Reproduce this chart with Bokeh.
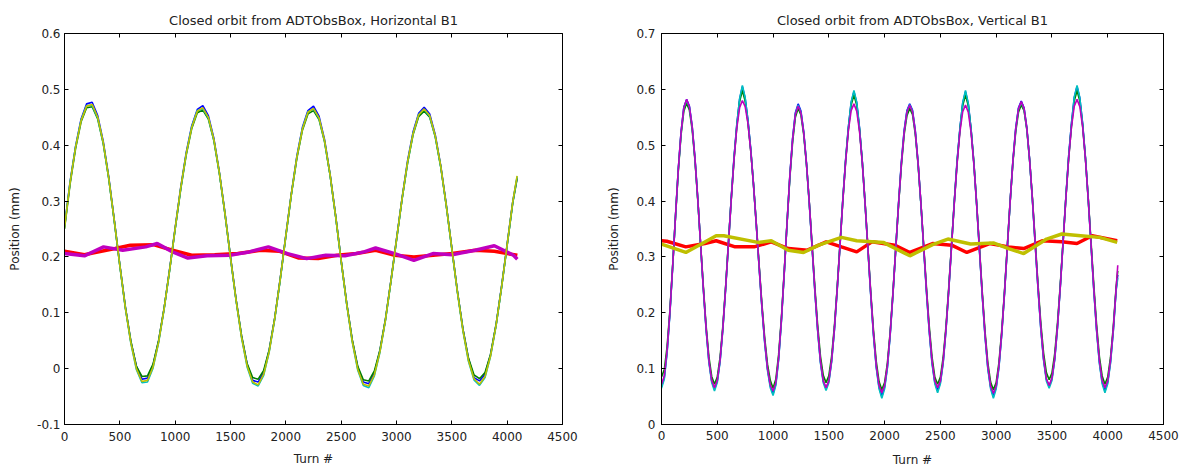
from bokeh.plotting import figure
from bokeh.layouts import row
from bokeh.models import Range1d, FixedTicker, LinearAxis, CustomJSTickFormatter
from bokeh.embed import file_html
from bokeh.resources import INLINE

FONT = "DejaVu Sans"

# ---------------- data: Horizontal B1 ----------------
X_TICKS = [0, 500, 1000, 1500, 2000, 2500, 3000, 3500, 4000, 4500]
Y_TICKS_H = [-0.1, 0.0, 0.1, 0.2, 0.3, 0.4, 0.5, 0.6]
Y_TICKS_V = [0.0, 0.1, 0.2, 0.3, 0.4, 0.5, 0.6, 0.7]

turn_h = list(range(0, 4051, 50)) + [4090]

h_blue = [0.254, 0.334, 0.398, 0.447, 0.474, 0.477, 0.453, 0.407, 0.343, 0.266,
          0.186, 0.110, 0.048, 0.004, -0.019, -0.017, 0.006, 0.049, 0.108, 0.178,
          0.252, 0.324, 0.387, 0.435, 0.464, 0.471, 0.453, 0.412, 0.351, 0.279,
          0.200, 0.124, 0.058, 0.008, -0.021, -0.024, -0.007, 0.033, 0.091, 0.162,
          0.239, 0.314, 0.381, 0.432, 0.462, 0.470, 0.452, 0.410, 0.348, 0.274,
          0.194, 0.117, 0.051, 0.002, -0.024, -0.027, -0.008, 0.032, 0.088, 0.158,
          0.232, 0.305, 0.372, 0.424, 0.457, 0.468, 0.456, 0.419, 0.363, 0.293,
          0.216, 0.139, 0.071, 0.018, -0.016, -0.022, -0.010, 0.025, 0.079, 0.148,
          0.223, 0.298, 0.342]
h_green = [0.250, 0.330, 0.394, 0.442, 0.467, 0.469, 0.447, 0.403, 0.340, 0.264,
           0.185, 0.110, 0.049, 0.004, -0.014, -0.013, 0.008, 0.050, 0.108, 0.177,
           0.250, 0.321, 0.383, 0.430, 0.458, 0.463, 0.447, 0.408, 0.349, 0.277,
           0.199, 0.124, 0.059, 0.009, -0.016, -0.019, -0.003, 0.034, 0.091, 0.161,
           0.237, 0.312, 0.377, 0.427, 0.456, 0.462, 0.446, 0.406, 0.346, 0.273,
           0.193, 0.117, 0.052, 0.004, -0.020, -0.022, -0.004, 0.033, 0.088, 0.157,
           0.230, 0.303, 0.368, 0.419, 0.451, 0.461, 0.450, 0.415, 0.361, 0.292,
           0.215, 0.139, 0.071, 0.019, -0.011, -0.018, -0.007, 0.026, 0.079, 0.147,
           0.221, 0.296, 0.340]
h_cyan = [0.253, 0.333, 0.397, 0.445, 0.471, 0.471, 0.449, 0.404, 0.340, 0.264,
          0.184, 0.108, 0.045, -0.002, -0.025, -0.024, 0.001, 0.046, 0.106, 0.176,
          0.250, 0.322, 0.385, 0.433, 0.462, 0.465, 0.449, 0.409, 0.349, 0.277,
          0.198, 0.122, 0.055, 0.003, -0.026, -0.031, -0.012, 0.030, 0.089, 0.160,
          0.237, 0.312, 0.379, 0.430, 0.460, 0.465, 0.448, 0.407, 0.346, 0.272,
          0.192, 0.115, 0.048, -0.003, -0.030, -0.034, -0.013, 0.029, 0.086, 0.156,
          0.230, 0.303, 0.369, 0.421, 0.455, 0.464, 0.452, 0.416, 0.361, 0.291,
          0.214, 0.137, 0.068, 0.013, -0.020, -0.030, -0.016, 0.022, 0.077, 0.146,
          0.221, 0.297, 0.344]
h_yellow = [0.252, 0.332, 0.396, 0.444, 0.470, 0.473, 0.450, 0.405, 0.341, 0.265,
            0.185, 0.109, 0.046, 0.000, -0.023, -0.021, 0.003, 0.047, 0.107, 0.177,
            0.251, 0.323, 0.385, 0.432, 0.461, 0.467, 0.450, 0.410, 0.350, 0.278,
            0.199, 0.123, 0.056, 0.005, -0.024, -0.029, -0.010, 0.031, 0.090, 0.161,
            0.238, 0.313, 0.379, 0.429, 0.459, 0.466, 0.449, 0.408, 0.347, 0.273,
            0.193, 0.116, 0.049, -0.001, -0.028, -0.031, -0.011, 0.030, 0.087, 0.157,
            0.231, 0.304, 0.370, 0.421, 0.454, 0.465, 0.453, 0.417, 0.362, 0.292,
            0.215, 0.138, 0.069, 0.015, -0.018, -0.028, -0.014, 0.023, 0.078, 0.147,
            0.222, 0.298, 0.345]

h_red_t = [0, 180, 457, 595, 803, 976, 1149, 1357, 1565, 1772, 1945, 2118, 2292,
           2465, 2638, 2811, 2984, 3157, 3330, 3503, 3711, 3884, 4092]
h_red = [0.210, 0.204, 0.215, 0.221, 0.222, 0.212, 0.203, 0.204, 0.206, 0.212, 0.210,
         0.198, 0.197, 0.203, 0.206, 0.212, 0.203, 0.200, 0.203, 0.206, 0.212, 0.210, 0.203]
h_mag_t = [0, 180, 353, 526, 734, 838, 976, 1115, 1288, 1495, 1668, 1842, 2015, 2188,
           2361, 2534, 2707, 2811, 2984, 3157, 3330, 3503, 3711, 3884, 4057, 4092]
h_mag = [0.206, 0.202, 0.218, 0.212, 0.218, 0.224, 0.209, 0.198, 0.202, 0.203, 0.209,
         0.218, 0.206, 0.197, 0.203, 0.202, 0.209, 0.216, 0.206, 0.194, 0.206, 0.204,
         0.212, 0.220, 0.203, 0.196]

# ---------------- data: Vertical B1 ----------------
turn_v = list(range(0, 4076, 25)) + [4090]

v_blue = [0.068, 0.084, 0.130, 0.199, 0.283, 0.372, 0.456, 0.523, 0.568, 0.582,
          0.570, 0.534, 0.477, 0.405, 0.324, 0.244, 0.171, 0.113, 0.078, 0.063,
          0.078, 0.114, 0.172, 0.245, 0.325, 0.405, 0.478, 0.537, 0.582, 0.605,
          0.584, 0.545, 0.493, 0.430, 0.358, 0.283, 0.211, 0.148, 0.100, 0.069,
          0.055, 0.073, 0.118, 0.187, 0.271, 0.360, 0.444, 0.512, 0.558, 0.574,
          0.561, 0.524, 0.467, 0.396, 0.318, 0.239, 0.169, 0.112, 0.078, 0.064,
          0.078, 0.114, 0.171, 0.243, 0.322, 0.402, 0.473, 0.532, 0.576, 0.596,
          0.576, 0.531, 0.471, 0.396, 0.316, 0.235, 0.162, 0.104, 0.067, 0.050,
          0.067, 0.103, 0.162, 0.235, 0.316, 0.396, 0.469, 0.526, 0.562, 0.574,
          0.563, 0.526, 0.469, 0.397, 0.318, 0.239, 0.168, 0.111, 0.076, 0.060,
          0.076, 0.112, 0.170, 0.242, 0.321, 0.400, 0.473, 0.530, 0.575, 0.596,
          0.574, 0.529, 0.469, 0.395, 0.314, 0.233, 0.160, 0.102, 0.067, 0.050,
          0.067, 0.104, 0.163, 0.237, 0.318, 0.399, 0.472, 0.530, 0.567, 0.579,
          0.567, 0.531, 0.474, 0.403, 0.323, 0.245, 0.173, 0.117, 0.081, 0.068,
          0.082, 0.118, 0.176, 0.248, 0.328, 0.408, 0.481, 0.539, 0.585, 0.605,
          0.584, 0.539, 0.479, 0.405, 0.324, 0.243, 0.170, 0.112, 0.076, 0.060,
          0.076, 0.112, 0.169, 0.241, 0.268]
v_green = [0.085, 0.098, 0.139, 0.203, 0.284, 0.370, 0.452, 0.518, 0.561, 0.575,
           0.563, 0.528, 0.473, 0.403, 0.325, 0.247, 0.176, 0.121, 0.086, 0.072,
           0.085, 0.120, 0.176, 0.247, 0.325, 0.403, 0.474, 0.533, 0.578, 0.598,
           0.579, 0.541, 0.490, 0.429, 0.359, 0.286, 0.216, 0.155, 0.108, 0.079,
           0.065, 0.081, 0.125, 0.191, 0.273, 0.359, 0.440, 0.505, 0.550, 0.566,
           0.554, 0.519, 0.465, 0.397, 0.321, 0.245, 0.177, 0.122, 0.088, 0.075,
           0.087, 0.122, 0.176, 0.245, 0.322, 0.400, 0.470, 0.528, 0.572, 0.590,
           0.572, 0.528, 0.470, 0.397, 0.318, 0.239, 0.169, 0.113, 0.077, 0.062,
           0.075, 0.110, 0.166, 0.237, 0.315, 0.393, 0.463, 0.519, 0.553, 0.566,
           0.555, 0.520, 0.466, 0.397, 0.321, 0.245, 0.176, 0.121, 0.085, 0.072,
           0.085, 0.120, 0.175, 0.245, 0.322, 0.399, 0.469, 0.527, 0.571, 0.590,
           0.571, 0.527, 0.469, 0.396, 0.317, 0.238, 0.167, 0.111, 0.076, 0.062,
           0.075, 0.111, 0.168, 0.239, 0.319, 0.398, 0.469, 0.524, 0.559, 0.572,
           0.562, 0.528, 0.473, 0.405, 0.328, 0.251, 0.182, 0.128, 0.093, 0.080,
           0.092, 0.127, 0.182, 0.251, 0.328, 0.406, 0.477, 0.534, 0.579, 0.598,
           0.579, 0.535, 0.477, 0.406, 0.328, 0.250, 0.179, 0.122, 0.087, 0.072,
           0.085, 0.120, 0.175, 0.245, 0.275]
v_cyan = [0.065, 0.081, 0.128, 0.197, 0.281, 0.370, 0.454, 0.521, 0.566, 0.580,
          0.568, 0.532, 0.475, 0.403, 0.322, 0.242, 0.169, 0.111, 0.075, 0.060,
          0.075, 0.112, 0.170, 0.243, 0.323, 0.403, 0.476, 0.536, 0.583, 0.607,
          0.585, 0.544, 0.492, 0.428, 0.356, 0.281, 0.209, 0.146, 0.097, 0.066,
          0.052, 0.070, 0.116, 0.185, 0.269, 0.358, 0.442, 0.510, 0.556, 0.572,
          0.559, 0.522, 0.465, 0.394, 0.316, 0.237, 0.167, 0.110, 0.075, 0.061,
          0.075, 0.112, 0.169, 0.241, 0.320, 0.400, 0.471, 0.531, 0.577, 0.598,
          0.577, 0.530, 0.469, 0.394, 0.314, 0.233, 0.160, 0.102, 0.064, 0.047,
          0.064, 0.101, 0.160, 0.233, 0.314, 0.394, 0.467, 0.524, 0.560, 0.573,
          0.561, 0.524, 0.467, 0.395, 0.316, 0.237, 0.166, 0.109, 0.073, 0.057,
          0.073, 0.110, 0.168, 0.240, 0.319, 0.398, 0.471, 0.529, 0.576, 0.598,
          0.575, 0.528, 0.467, 0.393, 0.312, 0.231, 0.158, 0.100, 0.064, 0.047,
          0.064, 0.102, 0.161, 0.235, 0.316, 0.397, 0.470, 0.528, 0.565, 0.577,
          0.565, 0.529, 0.472, 0.401, 0.321, 0.243, 0.171, 0.115, 0.078, 0.065,
          0.079, 0.116, 0.174, 0.246, 0.326, 0.406, 0.480, 0.538, 0.586, 0.607,
          0.585, 0.538, 0.477, 0.403, 0.322, 0.241, 0.168, 0.110, 0.073, 0.057,
          0.073, 0.110, 0.167, 0.239, 0.262]
v_mag = [0.072, 0.087, 0.132, 0.200, 0.283, 0.371, 0.455, 0.522, 0.567, 0.582,
         0.569, 0.533, 0.476, 0.404, 0.324, 0.244, 0.172, 0.115, 0.079, 0.066,
         0.079, 0.115, 0.172, 0.244, 0.323, 0.402, 0.474, 0.531, 0.567, 0.580,
         0.569, 0.539, 0.490, 0.428, 0.357, 0.283, 0.212, 0.150, 0.101, 0.071,
         0.060, 0.075, 0.120, 0.188, 0.271, 0.359, 0.443, 0.510, 0.555, 0.570,
         0.558, 0.522, 0.466, 0.396, 0.318, 0.240, 0.170, 0.114, 0.078, 0.066,
         0.078, 0.115, 0.171, 0.242, 0.320, 0.399, 0.469, 0.526, 0.562, 0.574,
         0.561, 0.525, 0.468, 0.395, 0.316, 0.236, 0.164, 0.106, 0.070, 0.057,
         0.070, 0.106, 0.163, 0.235, 0.315, 0.394, 0.466, 0.523, 0.559, 0.572,
         0.560, 0.524, 0.468, 0.397, 0.319, 0.241, 0.170, 0.114, 0.078, 0.066,
         0.078, 0.114, 0.170, 0.241, 0.319, 0.397, 0.468, 0.524, 0.560, 0.572,
         0.559, 0.523, 0.466, 0.394, 0.314, 0.234, 0.162, 0.105, 0.069, 0.056,
         0.069, 0.106, 0.164, 0.236, 0.317, 0.398, 0.471, 0.528, 0.565, 0.578,
         0.566, 0.530, 0.473, 0.403, 0.324, 0.246, 0.175, 0.119, 0.082, 0.070,
         0.083, 0.119, 0.176, 0.247, 0.326, 0.405, 0.477, 0.533, 0.570, 0.582,
         0.569, 0.533, 0.476, 0.404, 0.324, 0.244, 0.172, 0.115, 0.079, 0.066,
         0.078, 0.115, 0.171, 0.242, 0.285]

v_red_t = [0, 48, 218, 388, 490, 660, 830, 984, 1137, 1307, 1477, 1613, 1750, 1886,
           2090, 2226, 2430, 2601, 2737, 2941, 3111, 3247, 3418, 3588, 3724, 3860, 4085]
v_red = [0.329, 0.328, 0.318, 0.324, 0.329, 0.318, 0.318, 0.327, 0.315, 0.312, 0.327,
         0.318, 0.309, 0.327, 0.321, 0.308, 0.324, 0.321, 0.308, 0.324, 0.318, 0.315,
         0.329, 0.327, 0.324, 0.338, 0.329]
v_yel_t = [0, 218, 490, 558, 865, 984, 1137, 1273, 1409, 1613, 1750, 1988, 2226, 2430,
           2567, 2771, 2975, 3111, 3247, 3452, 3588, 3758, 3928, 4085]
v_yel = [0.323, 0.308, 0.338, 0.338, 0.326, 0.329, 0.312, 0.308, 0.321, 0.335, 0.329,
         0.326, 0.302, 0.322, 0.332, 0.323, 0.325, 0.315, 0.306, 0.332, 0.341, 0.338,
         0.335, 0.326]

C_BLUE, C_GREEN, C_RED = "#0000ff", "#008000", "#ff0000"
C_CYAN, C_MAG, C_YEL = "#00bfbf", "#bf00bf", "#bfbf00"

fmt_y = CustomJSTickFormatter(code="return Number(tick.toFixed(1)).toString();")
blank = CustomJSTickFormatter(code="return '';")


def style_axis(ax, ticks, fmt, label, lab_standoff, label_standoff):
    ax.ticker = FixedTicker(ticks=ticks)
    ax.formatter = fmt
    ax.major_tick_in = 4
    ax.major_tick_out = 0
    ax.minor_tick_in = 0
    ax.minor_tick_out = 0
    ax.axis_line_color = "#000000"
    ax.major_tick_line_color = "#000000"
    ax.major_label_text_font = FONT
    ax.major_label_text_font_size = "12px"
    ax.major_label_text_color = "#222222"
    ax.major_label_standoff = lab_standoff
    ax.axis_label = label
    ax.axis_label_text_font = FONT
    ax.axis_label_text_font_size = "12px"
    ax.axis_label_text_font_style = "normal"
    ax.axis_label_text_color = "#222222"
    ax.axis_label_standoff = label_standoff


def make_fig(title, W, H, bl, br, bt, bb, ylo, yhi, yticks, ystand, ylabstand, xstand, xlabstand):
    p = figure(width=W, height=H, output_backend="svg", toolbar_location=None,
               x_range=Range1d(0, 4500), y_range=Range1d(ylo, yhi),
               min_border_left=bl, min_border_right=br, min_border_top=bt,
               min_border_bottom=bb, title=title)
    p.title.align = "center"
    p.title.text_font = FONT
    p.title.text_font_size = "13px"
    p.title.text_font_style = "normal"
    p.title.text_color = "#222222"
    p.title.standoff = 12
    p.grid.visible = False
    p.outline_line_color = "#000000"
    p.background_fill_color = "white"
    p.border_fill_color = "white"
    style_axis(p.xaxis[0], X_TICKS, p.xaxis[0].formatter, "Turn #", xstand, xlabstand)
    style_axis(p.yaxis[0], yticks, fmt_y, "Position (mm)", ystand, ylabstand)
    top = LinearAxis()
    style_axis(top, X_TICKS, blank, None, 0, 0)
    top.axis_line_color = None
    p.add_layout(top, "above")
    rgt = LinearAxis()
    style_axis(rgt, yticks, blank, None, 0, 0)
    rgt.axis_line_color = None
    p.add_layout(rgt, "right")
    return p


p1 = make_fig("Closed orbit from ADTObsBox, Horizontal B1", 600, 472, 64, 38, 31, 48,
              -0.1, 0.6, Y_TICKS_H, 4, 12, 7, 8)
p1.line(turn_h, h_blue, line_color=C_BLUE, line_width=1.6)
p1.line(turn_h, h_green, line_color=C_GREEN, line_width=1.6)
p1.line(h_red_t, h_red, line_color=C_RED, line_width=3.5)
p1.line(turn_h, h_cyan, line_color=C_CYAN, line_width=1.6)
p1.line(h_mag_t, h_mag, line_color=C_MAG, line_width=3.5)
p1.line(turn_h, h_yellow, line_color=C_YEL, line_width=1.6)

p2 = make_fig("Closed orbit from ADTObsBox, Vertical B1", 584, 472, 61, 21, 33, 43,
              0.0, 0.7, Y_TICKS_V, 6, 12, 6, 10)
p2.line(turn_v, v_blue, line_color=C_BLUE, line_width=1.6)
p2.line(turn_v, v_green, line_color=C_GREEN, line_width=1.6)
p2.line(v_red_t, v_red, line_color=C_RED, line_width=3.5)
p2.line(turn_v, v_cyan, line_color=C_CYAN, line_width=1.6)
p2.line(turn_v, v_mag, line_color=C_MAG, line_width=1.6)
p2.line(v_yel_t, v_yel, line_color=C_YEL, line_width=3.5)

layout = row(p1, p2)
open("out.html", "w").write(file_html(layout, INLINE))
